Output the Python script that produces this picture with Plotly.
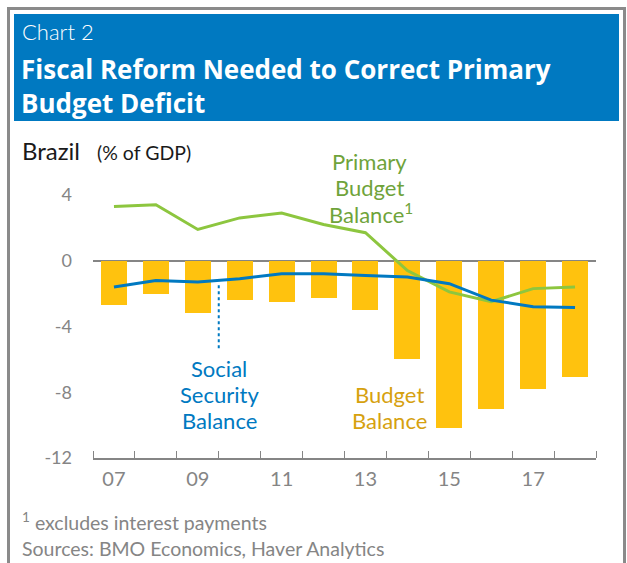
import plotly.graph_objects as go

years = list(range(2007, 2019))
budget_balance = [-2.7, -2.0, -3.2, -2.4, -2.5, -2.3, -3.0, -6.0, -10.2, -9.0, -7.8, -7.1]
primary_balance = [3.3, 3.4, 1.9, 2.6, 2.9, 2.2, 1.7, -0.6, -1.9, -2.5, -1.7, -1.6]
social_security = [-1.6, -1.2, -1.3, -1.1, -0.8, -0.8, -0.9, -1.0, -1.4, -2.4, -2.8, -2.85]
x_tickvals = [2007, 2009, 2011, 2013, 2015, 2017]
x_ticktext = ["07", "09", "11", "13", "15", "17"]
y_tickvals = [-12, -8, -4, 0, 4]
y_ticktext = ["-12", "-8", "-4", "0", "4"]

W, H = 627, 563
L, R, T, B = 93, 31, 162, 105
PW, PH = W - L - R, H - T - B

def px(x):
    return (x - L) / PW

def py(y):
    return (H - B - y) / PH

BLUE = "#0079C1"
GREEN = "#8DC63F"
GREEN_TXT = "#6FA33A"
GOLD = "#FFC20E"
GOLD_TXT = "#D6A10F"
GRAY = "#858585"
FONT = "Lato"
TFONT = "Open Sans"

fig = go.Figure()
fig.add_trace(go.Bar(x=years, y=budget_balance, width=0.62, marker=dict(color=GOLD, line=dict(width=0)),
                     showlegend=False, hoverinfo="skip"))
fig.add_trace(go.Scatter(x=years, y=primary_balance, mode="lines", line=dict(color=GREEN, width=3),
                         showlegend=False, hoverinfo="skip"))
fig.add_trace(go.Scatter(x=years, y=social_security, mode="lines", line=dict(color=BLUE, width=3),
                         showlegend=False, hoverinfo="skip"))

shapes = [
    dict(type="rect", xref="paper", yref="paper", x0=px(8.5), x1=px(624.5), y0=py(620), y1=py(8.5),
         line=dict(color="#8a8a8a", width=3), fillcolor="rgba(0,0,0,0)", layer="below"),
    dict(type="rect", xref="paper", yref="paper", x0=px(14), x1=px(619), y0=py(121), y1=py(14),
         line=dict(width=0), fillcolor=BLUE, layer="below"),
    dict(type="line", xref="x", yref="y", x0=2009.5, x1=2009.5, y0=-1.5, y1=-5.4,
         line=dict(color=BLUE, width=2, dash="dot")),
]

def ann(text, x, y, size, color, xanchor="left", weight=None, family=FONT):
    f = dict(family=family, size=size, color=color)
    if weight:
        f["weight"] = weight
    return dict(text=text, xref="paper", yref="paper", x=px(x), y=py(y), xanchor=xanchor,
                yanchor="middle", showarrow=False, font=f, align="left" if xanchor == "left" else "center")

annotations = [
    ann("Chart 2", 20, 32, 22, "white", weight=300),
    ann("Fiscal Reform Needed to Correct Primary<br>Budget Deficit", 19, 86, 26, "white",
        weight=700, family=TFONT),
    ann("Brazil", 20, 150, 24, "#1a1a1a"),
    ann("(% of GDP)", 95, 153, 19.5, "#1a1a1a"),
    ann("Primary", 369, 161, 22, GREEN_TXT, "center"),
    ann("Budget", 369, 187, 22, GREEN_TXT, "center"),
    ann("Balance<sup>1</sup>", 371, 213, 22, GREEN_TXT, "center"),
    ann("Social", 219, 368, 22, BLUE, "center"),
    ann("Security", 219, 394, 22, BLUE, "center"),
    ann("Balance", 219, 420, 22, BLUE, "center"),
    ann("Budget", 389, 394, 22, GOLD_TXT, "center"),
    ann("Balance", 389, 420, 22, GOLD_TXT, "center"),
    ann("<sup>1</sup> excludes interest payments", 20, 521, 19.5, GRAY),
    ann("Sources: BMO Economics, Haver Analytics", 20, 548, 19.5, GRAY),
]

fig.update_layout(
    width=W, height=H,
    margin=dict(l=L, r=R, t=T, b=B, pad=0),
    paper_bgcolor="white", plot_bgcolor="white",
    font=dict(family=FONT),
    shapes=shapes, annotations=annotations,
    bargap=0,
    xaxis=dict(range=[2006.5, 2018.5], tickvals=x_tickvals, ticktext=x_ticktext, ticks="",
               showgrid=False, zeroline=False, showline=True, linecolor=GRAY, linewidth=2,
               tickfont=dict(family=FONT, size=20, color=GRAY), ticklabelstandoff=2,
               minor=dict(tickvals=[y - 0.5 for y in years] + [2018.5], ticks="inside", ticklen=7,
                          tickcolor=GRAY, tickwidth=1, showgrid=False)),
    yaxis=dict(range=[-12, 6], tickvals=y_tickvals, ticktext=y_ticktext, ticks="",
               showgrid=False, zeroline=True, zerolinecolor=GRAY, zerolinewidth=2, showline=False,
               tickfont=dict(family=FONT, size=18, color=GRAY), ticklabelstandoff=20),
)

fig.write_html("out.html")
